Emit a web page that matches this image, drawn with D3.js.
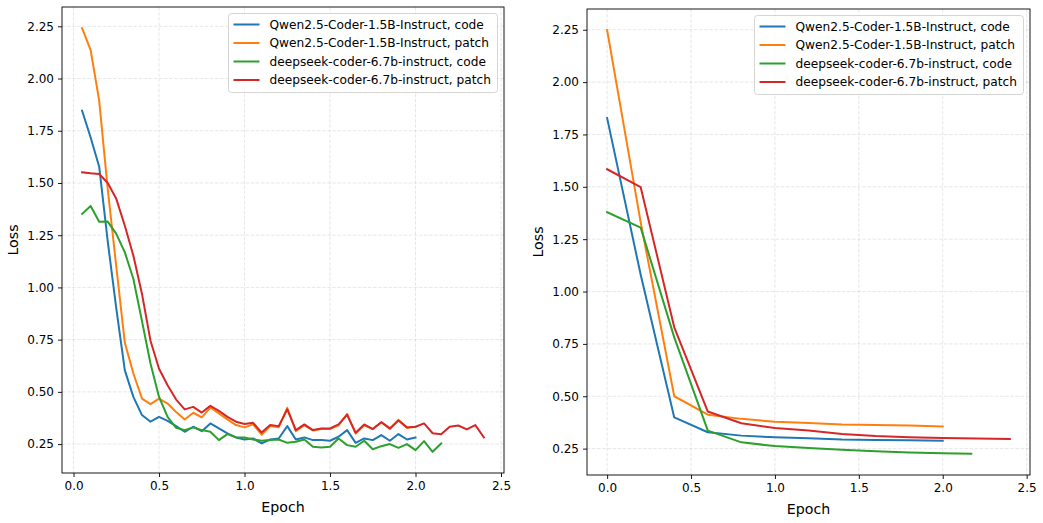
<!DOCTYPE html>
<html>
<head>
<meta charset="utf-8">
<script src="https://cdn.jsdelivr.net/npm/d3@7"></script>
<style>
  body { margin: 0; background: #fff; }
  text { font-family: "DejaVu Sans", sans-serif; fill: #000; }
</style>
</head>
<body>
<script>
// series names
var labels = ["Qwen2.5-Coder-1.5B-Instruct, code", "Qwen2.5-Coder-1.5B-Instruct, patch",
              "deepseek-coder-6.7b-instruct, code", "deepseek-coder-6.7b-instruct, patch"];
var colors = ["#1f77b4", "#ff7f0e", "#2ca02c", "#d62728"];

// left panel: loss logged every 0.05 epoch
var leftQwenCode = [1.846, 1.718, 1.578, 1.22, 0.90, 0.603, 0.476, 0.389, 0.357, 0.38, 0.361, 0.336, 0.309, 0.333, 0.312, 0.349, 0.325, 0.301, 0.282, 0.272,
                    0.277, 0.253, 0.272, 0.277, 0.336, 0.272, 0.282, 0.269, 0.269, 0.266, 0.285, 0.317, 0.256, 0.277, 0.269, 0.293, 0.266, 0.298, 0.272, 0.282];
var leftQwenPatch = [2.241, 2.136, 1.894, 1.47, 1.10, 0.735, 0.588, 0.468, 0.441, 0.468, 0.444, 0.404, 0.368, 0.40, 0.378, 0.425, 0.397, 0.368, 0.341, 0.33,
                     0.345, 0.295, 0.336, 0.330, 0.424, 0.312, 0.340, 0.315, 0.322, 0.322, 0.340, 0.395, 0.300, 0.340, 0.322, 0.355, 0.322, 0.366, 0.328, 0.332];
var leftDeepCode = [1.352, 1.39, 1.314, 1.315, 1.256, 1.168, 1.04, 0.84, 0.636, 0.476, 0.38, 0.328, 0.317, 0.33, 0.317, 0.309, 0.269, 0.298, 0.282, 0.282,
                    0.272, 0.266, 0.269, 0.272, 0.256, 0.261, 0.272, 0.237, 0.234, 0.237, 0.277, 0.245, 0.237, 0.266, 0.225, 0.24, 0.25, 0.232, 0.25, 0.221,
                    0.264, 0.213, 0.253];
var leftDeepPatch = [1.551, 1.546, 1.543, 1.5, 1.424, 1.295, 1.152, 0.97, 0.745, 0.611, 0.532, 0.463, 0.416, 0.428, 0.401, 0.433, 0.409, 0.38, 0.357, 0.346,
                     0.352, 0.305, 0.341, 0.336, 0.416, 0.317, 0.344, 0.317, 0.325, 0.325, 0.344, 0.390, 0.304, 0.344, 0.322, 0.355, 0.325, 0.363, 0.33, 0.333,
                     0.349, 0.302, 0.297, 0.333, 0.339, 0.32, 0.341, 0.282];

// right panel: eval loss
var rightEpochs = [0, 0.2, 0.4, 0.6, 0.8, 1.0, 1.2, 1.4, 1.6, 1.8, 2.0, 2.2, 2.4];
var rightDeepCodeEpochs = [0, 0.2, 0.4, 0.6, 0.8, 1.0, 1.2, 1.4, 1.6, 1.8, 2.0, 2.17];
var rightQwenCode = [1.828, 1.08, 0.399, 0.328, 0.312, 0.304, 0.299, 0.293, 0.291, 0.29, 0.288];
var rightQwenPatch = [2.248, 1.33, 0.50, 0.412, 0.392, 0.378, 0.372, 0.365, 0.363, 0.36, 0.356];
var rightDeepCode = [1.379, 1.305, 0.781, 0.336, 0.28, 0.262, 0.253, 0.244, 0.237, 0.232, 0.228, 0.225];
var rightDeepPatch = [1.584, 1.498, 0.829, 0.427, 0.371, 0.348, 0.336, 0.32, 0.31, 0.304, 0.301, 0.298, 0.296];

var xTicks = [0, 0.5, 1.0, 1.5, 2.0, 2.5];
var yTicks = [0.25, 0.5, 0.75, 1.0, 1.25, 1.5, 1.75, 2.0, 2.25];

var W = 1043, H = 523;
var svg = d3.select("body").append("svg")
    .attr("width", W)
    .attr("height", H);

function stepPoints(vals) {
  return vals.map(function(v, i) { return [0.05 * (i + 1), v]; });
}
function pairPoints(xs, vals) {
  return vals.map(function(v, i) { return [xs[i], v]; });
}

var leftSeries = [stepPoints(leftQwenCode), stepPoints(leftQwenPatch), stepPoints(leftDeepCode), stepPoints(leftDeepPatch)];
var rightSeries = [pairPoints(rightEpochs, rightQwenCode), pairPoints(rightEpochs, rightQwenPatch),
                   pairPoints(rightDeepCodeEpochs, rightDeepCode), pairPoints(rightEpochs, rightDeepPatch)];

function drawPanel(box, xDom, yDom, series, ylabX) {
  var x = d3.scaleLinear().domain(xDom).range([box.left, box.right]);
  var y = d3.scaleLinear().domain(yDom).range([box.bottom, box.top]);
  var g = svg.append("g");

  // grid
  g.append("g").selectAll("line").data(xTicks).enter().append("line")
    .attr("x1", function(d) { return x(d); }).attr("x2", function(d) { return x(d); })
    .attr("y1", box.top).attr("y2", box.bottom)
    .attr("stroke", "#b0b0b0").attr("stroke-opacity", 0.35)
    .attr("stroke-width", 0.9).attr("stroke-dasharray", "3.5,1.6");
  g.append("g").selectAll("line").data(yTicks).enter().append("line")
    .attr("y1", function(d) { return y(d); }).attr("y2", function(d) { return y(d); })
    .attr("x1", box.left).attr("x2", box.right)
    .attr("stroke", "#b0b0b0").attr("stroke-opacity", 0.35)
    .attr("stroke-width", 0.9).attr("stroke-dasharray", "3.5,1.6");

  // lines
  var line = d3.line().x(function(d) { return x(d[0]); }).y(function(d) { return y(d[1]); });
  g.append("g").selectAll("path").data(series).enter().append("path")
    .attr("d", line)
    .attr("fill", "none")
    .attr("stroke", function(d, i) { return colors[i]; })
    .attr("stroke-width", 2)
    .attr("stroke-linejoin", "round")
    .attr("stroke-linecap", "square");

  // axes
  var xAxis = d3.axisBottom(x).tickValues(xTicks).tickFormat(d3.format(".1f")).tickSizeOuter(0).tickSize(4).tickPadding(4);
  var yAxis = d3.axisLeft(y).tickValues(yTicks).tickFormat(d3.format(".2f")).tickSizeOuter(0).tickSize(4).tickPadding(4);
  var gx = g.append("g").attr("transform", "translate(0," + box.bottom + ")").call(xAxis);
  var gy = g.append("g").attr("transform", "translate(" + box.left + ",0)").call(yAxis);
  [gx, gy].forEach(function(a) {
    a.select(".domain").remove();
    a.selectAll("text").style("font-family", "DejaVu Sans").style("font-size", "12px").attr("fill", "#000");
    a.selectAll("line").attr("stroke", "#000").attr("stroke-width", 0.9);
  });

  // spines
  g.append("rect")
    .attr("x", box.left).attr("y", box.top)
    .attr("width", box.right - box.left).attr("height", box.bottom - box.top)
    .attr("fill", "none").attr("stroke", "#000").attr("stroke-width", 0.9);

  // axis labels
  g.append("text")
    .attr("x", (box.left + box.right) / 2).attr("y", box.bottom + 38.5)
    .attr("text-anchor", "middle").style("font-size", "14.2px")
    .text("Epoch");
  g.append("text")
    .attr("transform", "translate(" + ylabX + "," + (box.top + box.bottom) / 2 + ") rotate(-90)")
    .attr("text-anchor", "middle").style("font-size", "14.2px")
    .text("Loss");

  // legend
  var lw = 269, lh = 79;
  var lx = box.right - 6.5 - lw, ly = box.top + 6.5;
  var lg = g.append("g").attr("transform", "translate(" + lx + "," + ly + ")");
  lg.append("rect").attr("width", lw).attr("height", lh).attr("rx", 3)
    .attr("fill", "#fff").attr("fill-opacity", 0.8)
    .attr("stroke", "#d0d0d0").attr("stroke-width", 0.9);
  var rows = lg.selectAll("g.row").data(labels).enter().append("g")
    .attr("transform", function(d, i) { return "translate(0," + (11 + i * 18.5) + ")"; });
  rows.append("line").attr("x1", 5).attr("x2", 31).attr("y1", 0).attr("y2", 0)
    .attr("stroke", function(d, i) { return colors[i]; }).attr("stroke-width", 2);
  rows.append("text").attr("x", 41).attr("y", 4.4).style("font-size", "12.2px")
    .text(function(d) { return d; });
}

drawPanel({ left: 62, right: 504, top: 7, bottom: 473 }, [-0.0675, 2.5175], [0.1116, 2.3424], leftSeries, 18);
drawPanel({ left: 587, right: 1030, top: 9, bottom: 475 }, [-0.12, 2.52], [0.124, 2.349], rightSeries, 543);
</script>
</body>
</html>
